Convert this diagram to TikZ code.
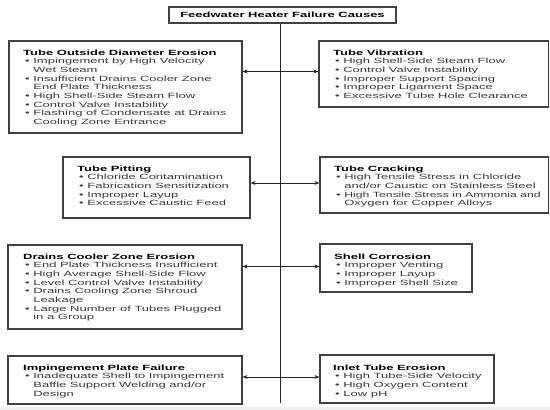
\documentclass[tikz,border=0pt]{standalone}
\usepackage{fontspec}
\setmainfont{Liberation Sans}
\usepackage{graphicx}
\usetikzlibrary{arrows.meta,fit}
\definecolor{itemc}{HTML}{383838}
\definecolor{framec}{HTML}{404040}
\newcommand\hd[1]{\textbf{#1}}
\newcommand\bl{\hspace*{2pt}\color{itemc}\textbullet\ }
\newcommand\ct{\hspace*{2pt}\color{itemc}\phantom{\textbullet\ }}
\newcommand\cbox[1]{\scalebox{1}[0.58]{\fontsize{13}{15}\selectfont\begin{tabular}[t]{@{}l@{}}#1\end{tabular}}}
\tikzset{
  box/.style={draw=framec, line width=1.1pt, inner sep=0pt},
  txt/.style={anchor=base west, inner sep=0pt},
  arr/.style={draw=black!85, line width=0.9pt, -{Stealth[length=5pt,width=4pt]}},
  spine/.style={draw=black!85, line width=1pt}
}
\begin{document}
\begin{tikzpicture}[x=1pt,y=-1pt]
\useasboundingbox (0,0) rectangle (550,410);
\fill[gray!12] (0,406.5) rectangle (550,410);

% title
\node[box, fit={(169,7) (396,23)}] (title) {};
\node[inner sep=0pt] (titletext) at (title.center) {\scalebox{1}[0.58]{\fontsize{13}{15}\selectfont\bfseries Feedwater Heater Failure Causes}};

% boxes
\node[box, fit={(9,41) (242,133)}] (b1) {};
\node[box, fit={(319,41) (548.5,107)}] (b2) {};
\node[box, fit={(63,157) (250,218)}] (b3) {};
\node[box, fit={(320,157) (548.5,213)}] (b4) {};
\node[box, fit={(8,245) (242,329)}] (b5) {};
\node[box, fit={(320,244) (472,292)}] (b6) {};
\node[box, fit={(8,356) (242,404)}] (b7) {};
\node[box, fit={(320,355) (494,403)}] (b8) {};

% texts
\node[txt] (t1) at (23,55) {\cbox{\hd{Tube Outside Diameter Erosion}\\
\bl Impingement by High Velocity\\
\ct Wet Steam\\
\bl Insufficient Drains Cooler Zone\\
\ct End Plate Thickness\\
\bl High Shell-Side Steam Flow\\
\bl Control Valve Instability\\
\bl Flashing of Condensate at Drains\\
\ct Cooling Zone Entrance}};

\node[txt] (t2) at (333,55) {\cbox{\hd{Tube Vibration}\\
\bl High Shell-Side Steam Flow\\
\bl Control Valve Instability\\
\bl Improper Support Spacing\\
\bl Improper Ligament Space\\
\bl Excessive Tube Hole Clearance}};

\node[txt] (t3) at (77,171) {\cbox{\hd{Tube Pitting}\\
\bl Chloride Contamination\\
\bl Fabrication Sensitization\\
\bl Improper Layup\\
\bl Excessive Caustic Feed}};

\node[txt] (t4) at (334,171) {\cbox{\hd{Tube Cracking}\\
\bl High Tensile Stress in Chloride\\
\ct and/or Caustic on Stainless Steel\\
\bl \scalebox{0.94}[1]{High Tensile Stress in Ammonia and}\\
\ct Oxygen for Copper Alloys}};

\node[txt] (t5) at (23,259) {\cbox{\hd{Drains Cooler Zone Erosion}\\
\bl End Plate Thickness Insufficient\\
\bl High Average Shell-Side Flow\\
\bl Level Control Valve Instability\\
\bl Drains Cooling Zone Shroud\\
\ct Leakage\\
\bl Large Number of Tubes Plugged\\
\ct in a Group}};

\node[txt] (t6) at (334,259) {\cbox{\hd{Shell Corrosion}\\
\bl Improper Venting\\
\bl Improper Layup\\
\bl Improper Shell Size}};

\node[txt] (t7) at (23,370) {\cbox{\hd{Impingement Plate Failure}\\
\bl Inadequate Shell to Impingement\\
\ct Baffle Support Welding and/or\\
\ct Design}};

\node[txt] (t8) at (333,370) {\cbox{\hd{Inlet Tube Erosion}\\
\bl High Tube-Side Velocity\\
\bl High Oxygen Content\\
\bl Low pH}};

% spine and arrows
\coordinate (sb) at (280,403);
\draw[spine] (title.south -| sb) -- (sb);
\coordinate (s1) at (280,71.5);
\coordinate (s2) at (280,183);
\coordinate (s3) at (280,266.5);
\coordinate (s4) at (280,377);
\draw[arr] (s1) -- (s1 -| b1.east);
\draw[arr] (s1) -- (s1 -| b2.west);
\draw[arr] (s2) -- (s2 -| b3.east);
\draw[arr] (s2) -- (s2 -| b4.west);
\draw[arr] (s3) -- (s3 -| b5.east);
\draw[arr] (s3) -- (s3 -| b6.west);
\draw[arr] (s4) -- (s4 -| b7.east);
\draw[arr] (s4) -- (s4 -| b8.west);
\end{tikzpicture}
\end{document}
